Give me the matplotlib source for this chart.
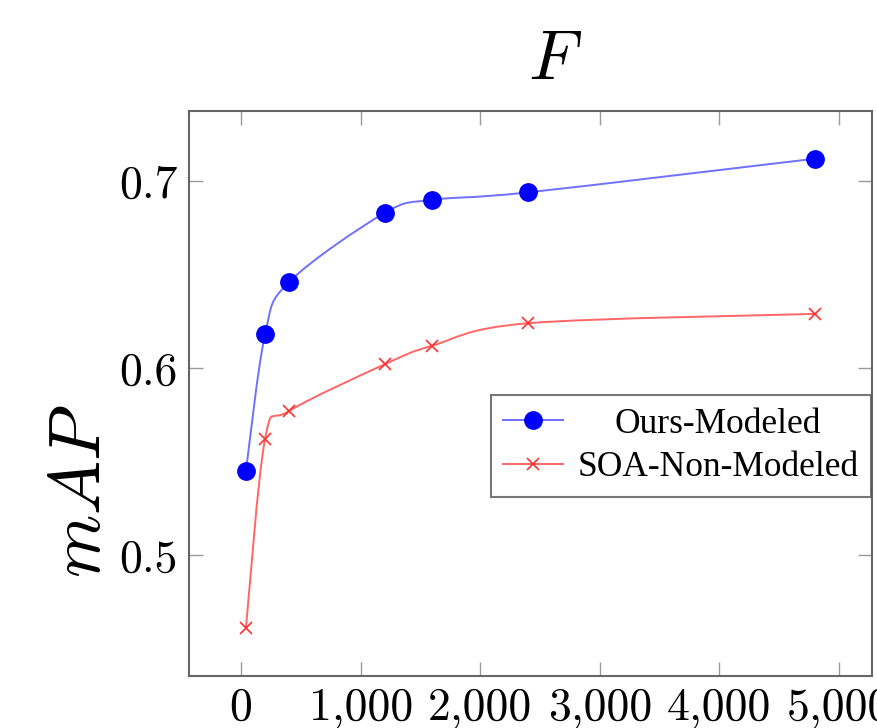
import numpy as np
import matplotlib
matplotlib.use("Agg")
import matplotlib.pyplot as plt
from matplotlib.path import Path
from matplotlib.patches import PathPatch
from matplotlib.ticker import FuncFormatter
from matplotlib.transforms import Affine2D

plt.rcParams['font.family'] = 'cmr10'
plt.rcParams['mathtext.fontset'] = 'cm'
plt.rcParams['axes.formatter.use_mathtext'] = True

# data
F_values = [40, 200, 400, 1200, 1600, 2400, 4800]
ours_modeled = [0.545, 0.618, 0.646, 0.683, 0.690, 0.694, 0.712]
soa_non_modeled = [0.461, 0.562, 0.577, 0.602, 0.612, 0.624, 0.629]
xticks = [0, 1000, 2000, 3000, 4000, 5000]
yticks = [0.5, 0.6, 0.7]


def smooth_path(xs, ys, t=1/6):
    # pgfplots-like "smooth" (cardinal spline through the points)
    pts = np.column_stack([xs, ys]).astype(float)
    n = len(pts)
    verts = [pts[0]]
    codes = [Path.MOVETO]
    for i in range(n - 1):
        p0 = pts[i - 1] if i > 0 else pts[i]
        p1 = pts[i]
        p2 = pts[i + 1]
        p3 = pts[i + 2] if i + 2 < n else pts[i + 1]
        verts += [p1 + (p2 - p0) * t, p2 - (p3 - p1) * t, p2]
        codes += [Path.CURVE4] * 3
    return Path(verts, codes)


fig = plt.figure(figsize=(8.77, 7.28), dpi=100)
ax = fig.add_axes([0.2155, 0.0714, 0.7788, 0.7761])

blue_line = '#7070ff'
red_line = '#ff6666'

ax.add_patch(PathPatch(smooth_path(F_values, ours_modeled), facecolor='none',
                       edgecolor=blue_line, lw=1.4))
ax.add_patch(PathPatch(smooth_path(F_values, soa_non_modeled), facecolor='none',
                       edgecolor=red_line, lw=1.4))

ax.plot(F_values, ours_modeled, ls='none', marker='o', ms=12.5, color='#0000ff')
ax.plot(F_values, soa_non_modeled, ls='none', marker='x', ms=8, mew=1.2, color='#ff3030')

# legend proxies
h1, = ax.plot([], [], color=blue_line, lw=1.4, marker='o', ms=12.5,
              mfc='#0000ff', mec='#0000ff', label='Ours-Modeled')
h2, = ax.plot([], [], color=red_line, lw=1.4, marker='x', ms=8, mew=1.2,
              mfc='#ff3030', mec='#ff3030', label='SOA-Non-Modeled')

ax.set_xlim(-436, 5276)
ax.set_ylim(0.4353, 0.7375)
ax.set_xticks(xticks)
ax.set_yticks(yticks)
ax.xaxis.set_major_formatter(FuncFormatter(lambda v, p: f"{v:,.0f}"))
ax.yaxis.set_major_formatter(FuncFormatter(lambda v, p: f"{v:.1f}"))
ax.tick_params(direction='in', length=10, width=1, color='#999999',
               top=True, right=True, labelsize=33, pad=8)

for s in ax.spines.values():
    s.set_color('#666666')
    s.set_linewidth(1.5)

leg = ax.legend(handles=[h1, h2], loc='upper right', bbox_to_anchor=(0.9985, 0.497),
                borderaxespad=0, prop={'family': 'Liberation Serif', 'size': 25.5},
                frameon=True, fancybox=False, handlelength=1.7, handletextpad=0.4,
                borderpad=0.35, labelspacing=0.3, numpoints=1)
leg.get_frame().set_edgecolor('#555555')
leg.get_frame().set_linewidth(1.5)

# centre the legend entries like pgfplots does
fig.canvas.draw()
renderer = fig.canvas.get_renderer()
texts = leg.get_texts()
widths = [t.get_window_extent(renderer).width for t in texts]
maxw = max(widths)
for t, w in zip(texts, widths):
    t.set_transform(t.get_transform() + Affine2D().translate((maxw - w) / 2, 0))

fig.text(555 / 877, 1 - 61 / 728, '$F$', fontsize=50, ha='center', va='center')
fig.text(82 / 877, 1 - 491 / 728, '$mAP$', fontsize=52, ha='center', va='center',
         rotation=90)

fig.savefig('out.png', dpi=100)
